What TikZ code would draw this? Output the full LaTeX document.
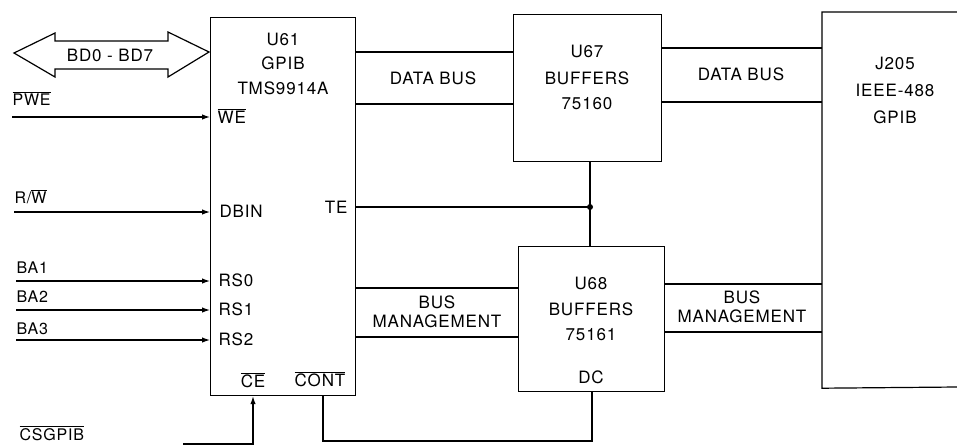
\documentclass[tikz,border=0pt]{standalone}
\usepackage{fontspec}
\setmainfont[LetterSpace=5]{TeX Gyre Heros}
\usetikzlibrary{arrows.meta}
\begin{document}
\begin{tikzpicture}[x=1pt,y=-1pt,line width=1.2pt,
  font=\fontsize{17}{19}\selectfont,
  box/.style={draw,inner sep=0pt,anchor=north west},
  txt/.style={inner sep=0pt},
  lbl/.style={inner sep=0pt,anchor=base west,font=\fontsize{16}{18}\selectfont},
  pin/.style={inner sep=0pt,anchor=west},
  sig/.style={-{Latex[length=8pt,width=5.5pt]}}]
\useasboundingbox (0,0) rectangle (957,445);

% boxes
\node[box,minimum width=145pt,minimum height=378pt] (u61) at (210,17) {};
\node[box,minimum width=148pt,minimum height=147pt] (u67) at (513,14) {};
\node[box,minimum width=146pt,minimum height=145pt] (u68) at (518,246) {};
\node[inner sep=0pt,anchor=north west,minimum width=135pt,minimum height=375pt] (j205) at (822,12) {};
\coordinate (jtr) at (957,12);
\coordinate (jbr) at (957,387);
\draw (jtr) -- (j205.north west) -- (j205.south west) -- (jbr);

% box texts
\node[txt] (t61a) at (283,39) {U61};
\node[txt] (t61b) at (283,63) {GPIB};
\node[txt] (t61c) at (283,88) {TMS9914A};
\node[txt] (t67a) at (587,51) {U67};
\node[txt] (t67b) at (587,78) {BUFFERS};
\node[txt] (t67c) at (587,104) {75160};
\node[txt] (t68a) at (591,283) {U68};
\node[txt] (t68b) at (591,309) {BUFFERS};
\node[txt] (t68c) at (591,335) {75161};
\node[txt] (t68d) at (591,377) {DC};
\node[txt] (tja) at (895,63) {J205};
\node[txt] (tjb) at (895,90) {IEEE-488};
\node[txt] (tjc) at (895,117) {GPIB};

% pin labels inside U61
\node[pin] (pwe) at (217,116) {$\overline{\mbox{WE}}$};
\node[pin] (pdbin) at (219,211) {DBIN};
\node[pin,anchor=east] (pte) at (348,207) {TE};
\node[pin] (prs0) at (218,280) {RS0};
\node[pin] (prs1) at (218,309) {RS1};
\node[pin] (prs2) at (218,339) {RS2};
\node[txt] (pce) at (253,380) {$\overline{\mbox{CE}}$};
\node[txt] (pcont) at (320,379) {$\overline{\mbox{CONT}}$};

% double arrow bus
\node[txt] (bdlbl) at (110,55) {BD0 - BD7};
\draw (14,53) -- (55,33) -- (55,41) -- (168,41) -- (168,32) -- (209,52)
  -- (168,77) -- (168,69) -- (55,69) -- (55,77) -- cycle;

% input signals
\node[lbl] (lpwe) at (12,105) {$\overline{\mbox{PWE}}$};
\node[lbl] (lrw) at (14,203) {R/$\overline{\mbox{W}}$};
\node[lbl] (lba1) at (16,273) {BA1};
\node[lbl] (lba2) at (16,302) {BA2};
\node[lbl] (lba3) at (16,334) {BA3};
\node[lbl] (lcs) at (19,440) {$\overline{\mbox{CSGPIB}}$};

\coordinate (s1) at (12,117);
\coordinate (s2) at (14,212);
\coordinate (s3) at (16,281);
\coordinate (s4) at (16,310);
\coordinate (s5) at (16,340);
\draw[sig] (s1) -- (s1 -| u61.west);
\draw[sig] (s2) -- (s2 -| u61.west);
\draw[sig] (s3) -- (s3 -| u61.west);
\draw[sig] (s4) -- (s4 -| u61.west);
\draw[sig] (s5) -- (s5 -| u61.west);

% chip enable
\coordinate (cs0) at (183,444);
\coordinate (cs1) at (253,444);
\draw[sig] (cs0) -- (cs1) -- (cs1 |- u61.south);

% data bus lines
\coordinate (d1) at (0,52);
\coordinate (d2) at (0,104);
\coordinate (d3) at (0,48);
\coordinate (d4) at (0,102);
\draw (d1 -| u61.east) -- (d1 -| u67.west);
\draw (d2 -| u61.east) -- (d2 -| u67.west);
\draw (d3 -| u67.east) -- (d3 -| j205.west);
\draw (d4 -| u67.east) -- (d4 -| j205.west);
\node[txt] (db1) at (433,78) {DATA BUS};
\node[txt] (db2) at (741,74) {DATA BUS};

% TE line and junction
\coordinate (jn) at (590,207);
\draw (jn -| u61.east) -- (jn);
\draw (jn |- u67.south) -- (jn |- u68.north);
\fill (jn) circle (3pt);

% bus management lines
\coordinate (m1) at (0,288);
\coordinate (m2) at (0,337);
\coordinate (m3) at (0,284);
\coordinate (m4) at (0,332);
\draw (m1 -| u61.east) -- (m1 -| u68.west);
\draw (m2 -| u61.east) -- (m2 -| u68.west);
\draw (m3 -| u68.east) -- (m3 -| j205.west);
\draw (m4 -| u68.east) -- (m4 -| j205.west);
\node[txt,align=center] (bm1) at (437,312) {BUS\\MANAGEMENT};
\node[txt,align=center] (bm2) at (742,307) {BUS\\MANAGEMENT};

% CONT to DC
\coordinate (c0) at (323,441);
\coordinate (c1) at (592,441);
\draw (c0 |- u61.south) -- (c0) -- (c1) -- (c1 |- u68.south);
\end{tikzpicture}
\end{document}
